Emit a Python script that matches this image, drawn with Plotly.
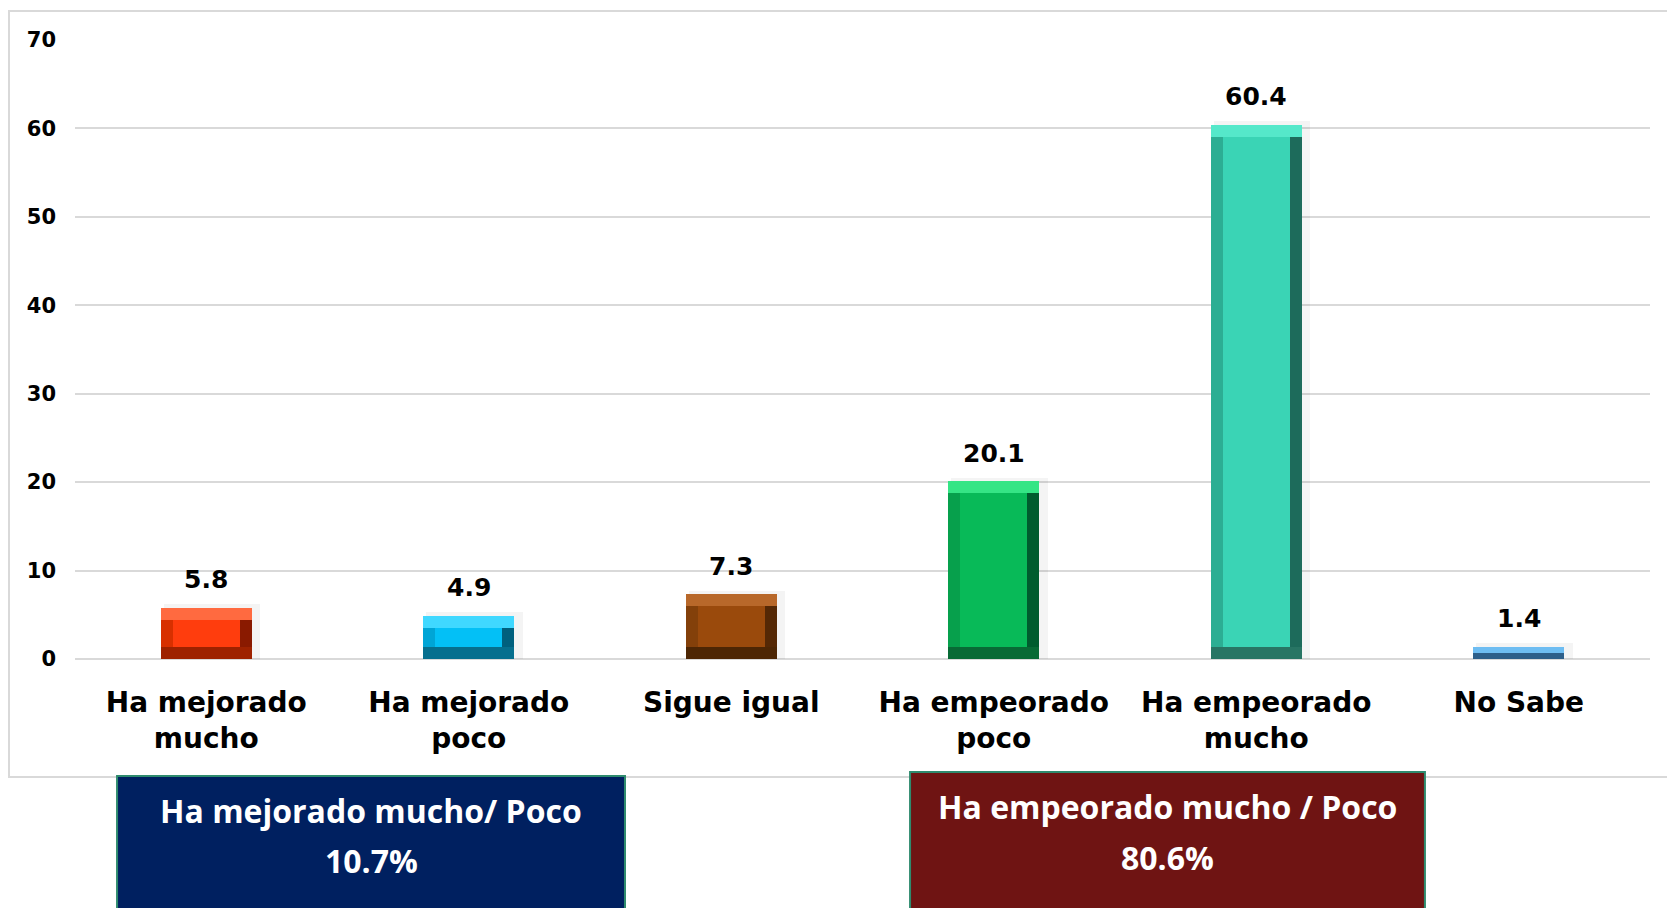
import plotly.graph_objects as go

# ---- data ----
categories = ["Ha mejorado<br>mucho", "Ha mejorado<br>poco", "Sigue igual",
              "Ha empeorado<br>poco", "Ha empeorado<br>mucho", "No Sabe"]
values = [5.8, 4.9, 7.3, 20.1, 60.4, 1.4]
y_ticks = [0, 10, 20, 30, 40, 50, 60, 70]

face_colors = ["#FF3D0D", "#03C0F6", "#9A4A0C", "#08BA58", "#3AD4B5", "#4DA2E6"]
top_colors = ["#FF6A40", "#40D8FF", "#B8682A", "#35E585", "#55E8CA", "#6EBDF2"]
left_colors = ["#D83000", "#00A5D6", "#83400A", "#07A04C", "#2CAE93", "#3A86C6"]
right_colors = ["#8A1A00", "#00607E", "#552805", "#005C2E", "#1D6B5B", "#27598A"]
bottom_colors = ["#9E2200", "#066F8E", "#4D2604", "#086A35", "#287564", "#2D5F8A"]

summary_left = ["Ha mejorado mucho/ Poco", "10.7%"]
summary_right = ["Ha empeorado mucho / Poco", "80.6%"]

# ---- geometry (styles) ----
W = 0.347           # bar width in category units
BH = 0.045          # horizontal bevel (category units)
BV = 1.35           # vertical bevel (value units)
xs = list(range(len(values)))
bv = [min(BV, v / 2) for v in values]

FONT = "DejaVu Sans"
fig = go.Figure()

common = dict(x=xs, hoverinfo="skip", showlegend=False, textposition="none")

# soft shadow
fig.add_trace(go.Bar(y=[v + 0.4 for v in values], base=[0] * 6, offset=-W / 2 + 0.012,
                     width=W + 0.02, marker=dict(color="rgba(0,0,0,0.045)", line_width=0), **common))
# full bar (right bevel colour)
fig.add_trace(go.Bar(y=values, base=[0] * 6, offset=-W / 2, width=W,
                     marker=dict(color=right_colors, line_width=0), **common))
# bottom strip
fig.add_trace(go.Bar(y=bv, base=[0] * 6, offset=-W / 2, width=W,
                     marker=dict(color=bottom_colors, line_width=0), **common))
# left strip
fig.add_trace(go.Bar(y=[v - b for v, b in zip(values, bv)], base=bv, offset=-W / 2, width=W - BH,
                     marker=dict(color=left_colors, line_width=0), **common))
# top strip
fig.add_trace(go.Bar(y=bv, base=[v - b for v, b in zip(values, bv)], offset=-W / 2, width=W,
                     marker=dict(color=top_colors, line_width=0), **common))
# face
fig.add_trace(go.Bar(y=[max(v - 2 * b, 0) for v, b in zip(values, bv)], base=bv,
                     offset=-W / 2 + BH, width=W - 2 * BH,
                     marker=dict(color=face_colors, line_width=0), **common))

# value labels
for x, v in zip(xs, values):
    fig.add_annotation(x=x, y=v, text=f"{v:.1f}", showarrow=False, yanchor="middle",
                       yshift=28, font=dict(family=FONT, size=25, color="black", weight="bold"))

# outer chart border
fig.add_shape(type="rect", xref="paper", yref="paper", x0=-0.0419, x1=1.03, y0=-0.1906, y1=1.0468,
              line=dict(color="#D9D9D9", width=2), fillcolor="rgba(0,0,0,0)", layer="below")

# summary boxes
fig.add_shape(type="rect", xref="paper", yref="paper", x0=0.0267, x1=0.3492, y0=-0.50, y1=-0.189,
              line=dict(color="#2E8B6E", width=2), fillcolor="#002060")
fig.add_shape(type="rect", xref="paper", yref="paper", x0=0.5302, x1=0.8571, y0=-0.50, y1=-0.1826,
              line=dict(color="#2E8B6E", width=2), fillcolor="#6F1413")

box_font = dict(family="Open Sans", size=32, color="white", weight="bold")
for txt, yy in zip(summary_left, [-0.244, -0.3263]):
    fig.add_annotation(xref="paper", yref="paper", x=(0.0267 + 0.3492) / 2, y=yy, text=txt,
                       showarrow=False, xanchor="center", yanchor="middle", font=box_font)
for txt, yy in zip(summary_right, [-0.2375, -0.3199]):
    fig.add_annotation(xref="paper", yref="paper", x=(0.5302 + 0.8571) / 2, y=yy, text=txt,
                       showarrow=False, xanchor="center", yanchor="middle", font=box_font)

fig.update_layout(
    width=1667, height=908,
    margin=dict(l=75, r=17, t=40, b=249),
    paper_bgcolor="white", plot_bgcolor="white",
    barmode="overlay", bargap=0,
    showlegend=False,
    xaxis=dict(range=[-0.5, 5.5], tickvals=xs, ticktext=categories, showgrid=False,
               zeroline=False, showline=False, ticks="", ticklabelstandoff=24,
               tickfont=dict(family=FONT, size=28, color="black", weight="bold"), fixedrange=True),
    yaxis=dict(range=[0, 70], tickvals=y_ticks, showgrid=True, gridcolor="#D9D9D9", gridwidth=1.5,
               zeroline=True, zerolinecolor="#D9D9D9", zerolinewidth=1.5, showline=False, ticks="",
               ticklabelstandoff=18,
               tickfont=dict(family=FONT, size=21, color="black", weight="bold"), fixedrange=True),
)

fig.write_html("out.html", config={"displayModeBar": False},
               post_script="document.body.style.margin='0';document.body.style.overflow='hidden';")
